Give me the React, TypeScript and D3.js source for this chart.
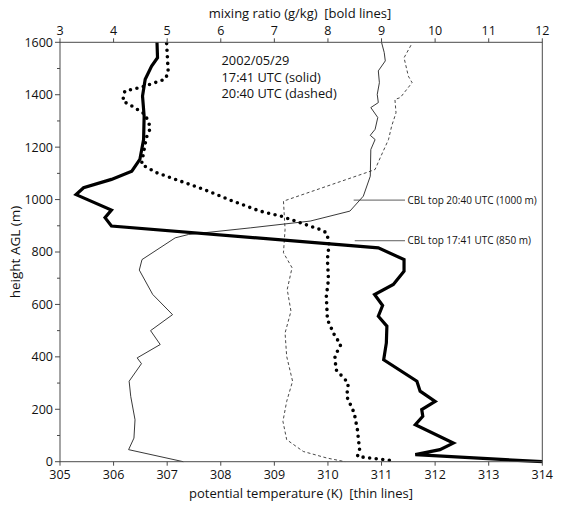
import React from "react";
import * as d3 from "d3";

// ---- axis ticks ----
const heightTicks = [0, 200, 400, 600, 800, 1000, 1200, 1400, 1600];
const heightMinorTicks = [100, 300, 500, 700, 900, 1100, 1300, 1500];
const tempTicks = [305, 306, 307, 308, 309, 310, 311, 312, 313, 314];
const mixTicks = [3, 4, 5, 6, 7, 8, 9, 10, 11, 12];

// ---- mixing ratio 17:41 UTC (bold solid) ----
const mix1741Height = [1600, 1541, 1509, 1459, 1395, 1318, 1229, 1153, 1108, 1077, 1045, 1019, 960, 931, 899, 816, 771, 727, 676, 638, 596, 555, 517, 453, 389, 307, 269, 230, 199, 173, 141, 71, 46, 27, 0];
const mix1741Value = [4.81, 4.82, 4.71, 4.59, 4.54, 4.57, 4.56, 4.49, 4.34, 3.96, 3.44, 3.3, 3.96, 3.84, 3.96, 8.94, 9.42, 9.42, 9.22, 8.87, 9.02, 8.94, 9.1, 9.09, 9.04, 9.66, 9.72, 10.0, 9.75, 9.77, 9.63, 10.34, 10.09, 9.63, 12.0];

// ---- mixing ratio 20:40 UTC (bold dotted) ----
const mix2040Height = [1595, 1484, 1459, 1427, 1414, 1376, 1357, 1325, 1274, 1236, 1134, 1102, 1039, 996, 956, 937, 912, 886, 873, 829, 772, 695, 631, 542, 479, 447, 402, 351, 300, 249, 186, 122, 46, 20, 14, 3];
const mix2040Value = [4.99, 5.02, 4.96, 4.49, 4.21, 4.17, 4.34, 4.59, 4.69, 4.61, 4.52, 4.81, 5.68, 6.2, 6.73, 7.12, 7.48, 7.85, 7.98, 8.02, 7.99, 8.01, 7.97, 7.99, 8.13, 8.24, 8.13, 8.15, 8.38, 8.35, 8.49, 8.55, 8.59, 8.55, 8.79, 9.25];

// ---- potential temperature 17:41 UTC (thin solid) ----
const theta1741Height = [1600, 1561, 1529, 1491, 1446, 1401, 1370, 1351, 1313, 1268, 1245, 1229, 1191, 1089, 1013, 956, 918, 892, 867, 854, 771, 731, 638, 561, 500, 447, 396, 374, 307, 249, 160, 90, 46, 0];
const theta1741Value = [311.0, 311.05, 311.07, 310.94, 310.96, 310.92, 310.94, 310.8, 310.93, 310.88, 310.79, 310.88, 310.8, 310.79, 310.66, 310.41, 309.67, 308.55, 307.4, 307.15, 306.53, 306.48, 306.73, 307.1, 306.69, 306.87, 306.44, 306.52, 306.29, 306.32, 306.4, 306.38, 306.28, 307.3];

// ---- potential temperature 20:40 UTC (thin dashed) ----
const theta2040Height = [1589, 1541, 1471, 1446, 1389, 1382, 1331, 1281, 1229, 1166, 1115, 1108, 994, 886, 797, 740, 657, 574, 491, 402, 307, 230, 154, 84, 39, 14, 0];
const theta2040Value = [311.55, 311.42, 311.5, 311.57, 311.35, 311.25, 311.27, 311.19, 311.13, 310.99, 310.88, 310.79, 309.17, 309.2, 309.17, 309.33, 309.24, 309.31, 309.2, 309.23, 309.34, 309.23, 309.16, 309.23, 309.54, 309.98, 310.32];

// ---- annotations ----
const legendLines = ["2002/05/29", "17:41 UTC (solid)", "20:40 UTC (dashed)"];
const cblLabels = ["CBL top 20:40 UTC (1000 m)", "CBL top 17:41 UTC (850 m)"];
const cblHeights = [998, 843];
const cblLeaderStartTemp = [310.48, 310.5];

const FONT = "'Open Sans', 'Noto Sans', sans-serif";

export default function App() {
  const W = 562;
  const H = 509;
  const left = 60;
  const right = 542.3;
  const top = 42.3;
  const bottom = 461.7;

  const xT = d3.scaleLinear().domain([305, 314]).range([left, right]);
  const xM = d3.scaleLinear().domain([3, 12]).range([left, right]);
  const y = d3.scaleLinear().domain([0, 1600]).range([bottom, top]);

  const zip = (h: number[], v: number[]) => h.map((hh, i) => [hh, v[i]] as [number, number]);
  const lineM = d3.line<[number, number]>().x((d) => xM(d[1])).y((d) => y(d[0]));
  const lineT = d3.line<[number, number]>().x((d) => xT(d[1])).y((d) => y(d[0]));

  const axisColor = "#4a4a4a";

  return (
    <svg width={W} height={H} style={{ position: "absolute", left: 0, top: 0, background: "#fff" }} fontFamily={FONT}>
      <defs>
        <clipPath id="plotClip">
          <rect x={left} y={top - 2} width={right - left + 2} height={bottom - top + 4} />
        </clipPath>
      </defs>

      {/* data lines */}
      <g clipPath="url(#plotClip)">
        <path d={lineT(zip(theta1741Height, theta1741Value)) || ""} fill="none" stroke="#222" strokeWidth={0.9} />
        <path d={lineT(zip(theta2040Height, theta2040Value)) || ""} fill="none" stroke="#333" strokeWidth={0.9} strokeDasharray="3,2.5" />
        <path d={lineM(zip(mix1741Height, mix1741Value)) || ""} fill="none" stroke="#000" strokeWidth={3.2} strokeLinejoin="miter" />
        <path d={lineM(zip(mix2040Height, mix2040Value)) || ""} fill="none" stroke="#000" strokeWidth={3.6} strokeDasharray="0,6.6" strokeLinecap="round" />
      </g>

      {/* frame */}
      <rect x={left} y={top} width={right - left} height={bottom - top} fill="none" stroke={axisColor} strokeWidth={1} />

      {/* left axis */}
      {heightTicks.map((t) => (
        <g key={"h" + t}>
          <line x1={left - 5} x2={left} y1={y(t)} y2={y(t)} stroke={axisColor} />
          <text x={left - 7} y={y(t)} dy="0.35em" textAnchor="end" fontSize={12.5} fill="#111">{t}</text>
        </g>
      ))}
      {heightMinorTicks.map((t) => (
        <line key={"hm" + t} x1={left - 3} x2={left} y1={y(t)} y2={y(t)} stroke={axisColor} />
      ))}

      {/* bottom axis */}
      {tempTicks.map((t) => (
        <g key={"t" + t}>
          <line x1={xT(t)} x2={xT(t)} y1={bottom} y2={bottom + 4} stroke={axisColor} />
          <text x={xT(t)} y={bottom + 17.5} textAnchor="middle" fontSize={12.5} fill="#111">{t}</text>
        </g>
      ))}

      {/* top axis */}
      {mixTicks.map((t) => (
        <g key={"m" + t}>
          <line x1={xM(t)} x2={xM(t)} y1={top} y2={top - 4} stroke={axisColor} />
          <text x={xM(t)} y={top - 7.5} textAnchor="middle" fontSize={12.5} fill="#111">{t}</text>
        </g>
      ))}

      {/* axis titles */}
      <text x={300} y={18} textAnchor="middle" fontSize={13} fill="#111" style={{ whiteSpace: "pre" }}>
        {"mixing ratio (g/kg)  [bold lines]"}
      </text>
      <text x={301} y={498} textAnchor="middle" fontSize={13} fill="#111" style={{ whiteSpace: "pre" }}>
        {"potential temperature (K)  [thin lines]"}
      </text>
      <text transform={`translate(20, ${(top + bottom) / 2}) rotate(-90)`} textAnchor="middle" fontSize={13.5} fill="#111">
        height AGL (m)
      </text>

      {/* legend text */}
      {legendLines.map((s, i) => (
        <text key={s} x={221.5} y={65 + i * 16.6} fontSize={12.8} fill="#111" style={{ whiteSpace: "pre" }}>
          {s}
        </text>
      ))}

      {/* CBL annotations */}
      {cblLabels.map((s, i) => (
        <g key={s}>
          <line x1={xT(cblLeaderStartTemp[i])} x2={405} y1={y(cblHeights[i])} y2={y(cblHeights[i])} stroke="#333" strokeWidth={0.8} />
          <text x={407.5} y={y(cblHeights[i])} dy="0.35em" fontSize={10} fill="#111">{s}</text>
        </g>
      ))}
    </svg>
  );
}
